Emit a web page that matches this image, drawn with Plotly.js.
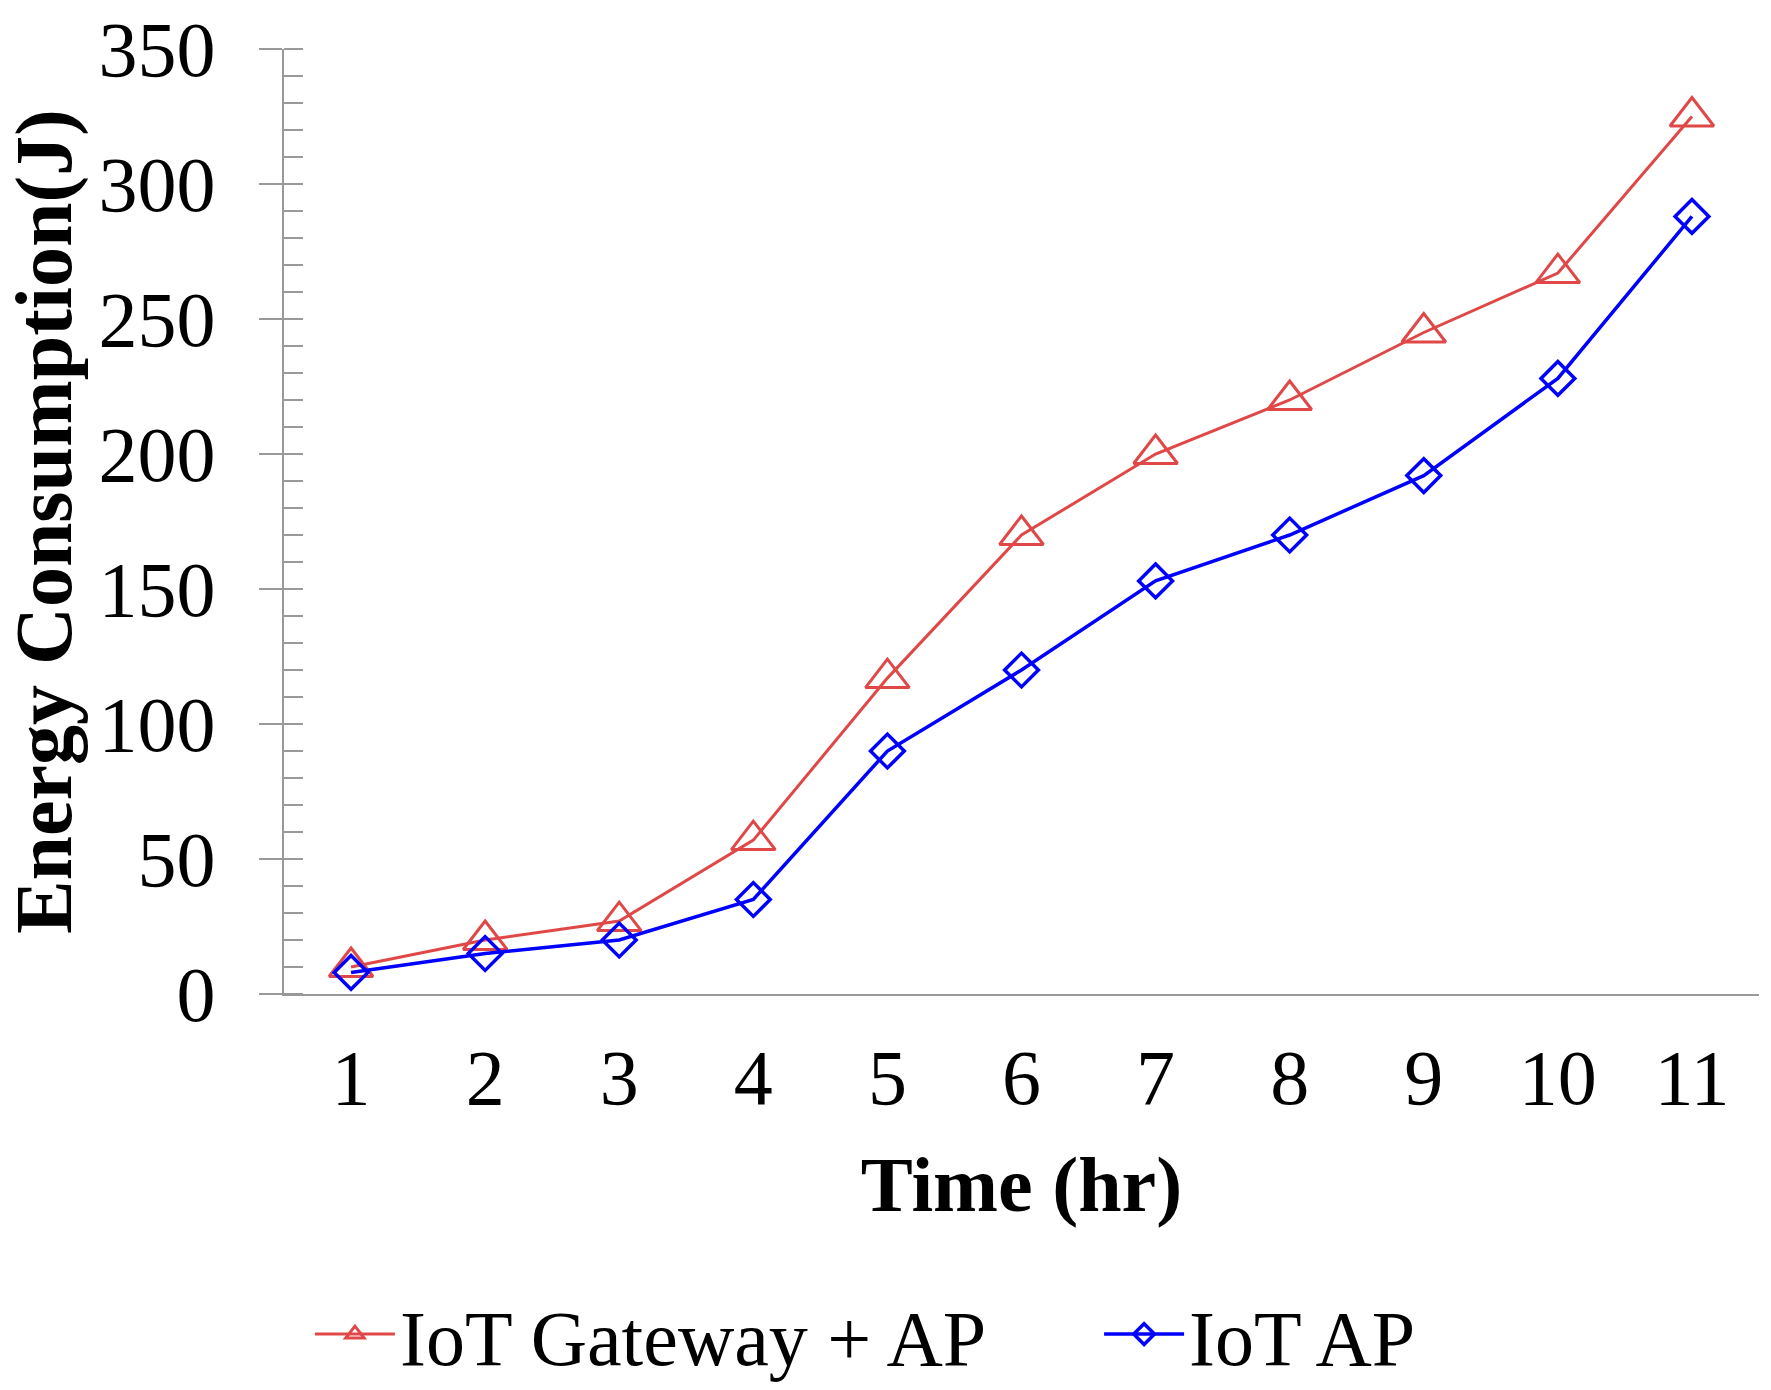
<!DOCTYPE html>
<html>
<head>
<meta charset="utf-8">
<script src="https://cdn.plot.ly/plotly-3.0.1.min.js"></script>
<style>html,body{margin:0;padding:0;background:#fff;}</style>
</head>
<body>
<div id="chart" style="width:1771px;height:1390px;"></div>
<script>
const hours = [1, 2, 3, 4, 5, 6, 7, 8, 9, 10, 11];
const gatewayAP = [10, 20, 27, 57, 117, 170, 200, 220, 245, 267, 325];
const iotAP = [8, 15, 20, 35, 90, 120, 153, 170, 192, 228, 288];
const seriesNames = ['IoT Gateway + AP', 'IoT AP'];
const yTickVals = [0, 50, 100, 150, 200, 250, 300, 350];

const serif = 'Liberation Serif, Times New Roman, serif';
const axisColor = '#999999';

const traces = [
  {
    x: hours, y: gatewayAP, name: seriesNames[0], type: 'scatter', mode: 'lines+markers',
    legend: 'legend',
    line: {color: '#E04848', width: 3},
    marker: {symbol: 'triangle-up-open', size: 38, color: '#E04848', line: {width: 3, color: '#E04848'}}
  },
  {
    x: hours, y: iotAP, name: seriesNames[1], type: 'scatter', mode: 'lines+markers',
    legend: 'legend2',
    line: {color: '#0000FF', width: 3.5},
    marker: {symbol: 'diamond-open', size: 26, color: '#0000FF', line: {width: 3.5, color: '#0000FF'}}
  }
];

const legendBase = {
  orientation: 'h', xref: 'container', yref: 'container',
  xanchor: 'left', y: 0.04, yanchor: 'middle',
  font: {family: serif, size: 78, color: '#000'},
  itemwidth: 80, bgcolor: 'rgba(0,0,0,0)'
};

const layout = {
  width: 1771, height: 1390,
  margin: {l: 284, r: 12, t: 49, b: 396},
  paper_bgcolor: '#ffffff', plot_bgcolor: '#ffffff',
  font: {family: serif, size: 78, color: '#000000'},
  showlegend: true,
  xaxis: {
    range: [0.5, 11.5], tickvals: hours, ticktext: hours.map(String),
    showgrid: false, zeroline: false, showline: true, linecolor: axisColor, linewidth: 2,
    ticks: '', ticklabelstandoff: 14,
    tickfont: {family: serif, size: 78, color: '#000'},
    title: {text: 'Time (hr)', font: {family: serif, size: 78, color: '#000', weight: 'bold'}, standoff: 37},
    automargin: false
  },
  yaxis: {
    range: [0, 350], tickvals: yTickVals, ticktext: yTickVals.map(String),
    showgrid: false, zeroline: false, showline: true, linecolor: axisColor, linewidth: 2,
    ticks: 'outside', ticklen: 23, tickwidth: 2, tickcolor: axisColor,
    ticklabelstandoff: 28,
    minor: {ticks: 'inside', ticklen: 19, tickwidth: 2, tickcolor: axisColor, tickmode: 'linear', tick0: 0, dtick: 10},
    tickfont: {family: serif, size: 78, color: '#000'},
    title: {text: 'Energy Consumption(J)', font: {family: serif, size: 80, color: '#000', weight: 'bold'}, standoff: 10},
    automargin: false
  },
  legend: Object.assign({}, legendBase, {x: 0.175}),
  legend2: Object.assign({}, legendBase, {x: 0.6206})
};

Plotly.newPlot('chart', traces, layout, {displayModeBar: false, staticPlot: true});
</script>
</body>
</html>
